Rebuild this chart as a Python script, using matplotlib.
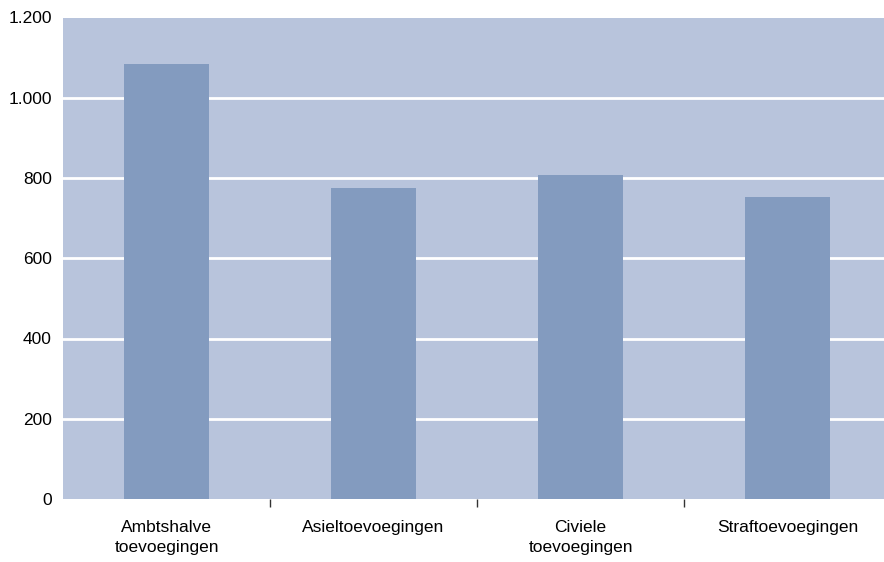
import matplotlib.pyplot as plt
from matplotlib import font_manager
from matplotlib.ticker import FuncFormatter, FixedLocator

categories = ["Ambtshalve\ntoevoegingen", "Asieltoevoegingen", "Civiele\ntoevoegingen", "Straftoevoegingen"]
values = [1084, 775, 807, 753]
yticks = [0, 200, 400, 600, 800, 1000, 1200]

BG = "#b8c4dc"
BAR = "#839bbf"

names = {f.name for f in font_manager.fontManager.ttflist}
family = "Liberation Sans Narrow" if "Liberation Sans Narrow" in names else "Liberation Sans"
plt.rcParams["font.family"] = [family, "DejaVu Sans"]

fig = plt.figure(figsize=(8.84, 5.62), dpi=100)
ax = fig.add_axes([63 / 884, 1 - 499 / 562, 1 - 63 / 884, (499 - 17.5) / 562])
ax.set_facecolor(BG)

x = list(range(len(categories)))
ax.bar(x, values, width=0.41, color=BAR, zorder=3)

ax.set_xlim(-0.5, 3.466)
ax.set_ylim(0, 1200)
ax.set_yticks(yticks)
ax.yaxis.set_major_formatter(FuncFormatter(lambda v, p: f"{int(v):,}".replace(",", ".")))
for v in yticks[1:-1]:
    ax.axhline(v, color="white", lw=2, zorder=2)

ax.set_xticks(x)
ax.set_xticklabels(categories, fontsize=12.5, linespacing=1.4)
ax.xaxis.set_minor_locator(FixedLocator([0.5, 1.5, 2.5]))
ax.tick_params(axis="x", which="major", length=0, pad=15)
ax.tick_params(axis="x", which="minor", length=6, width=1, color="#333333")
ax.tick_params(axis="y", length=0, pad=8, labelsize=12.5)

for s in ax.spines.values():
    s.set_visible(False)

fig.savefig("out.png", dpi=100)
